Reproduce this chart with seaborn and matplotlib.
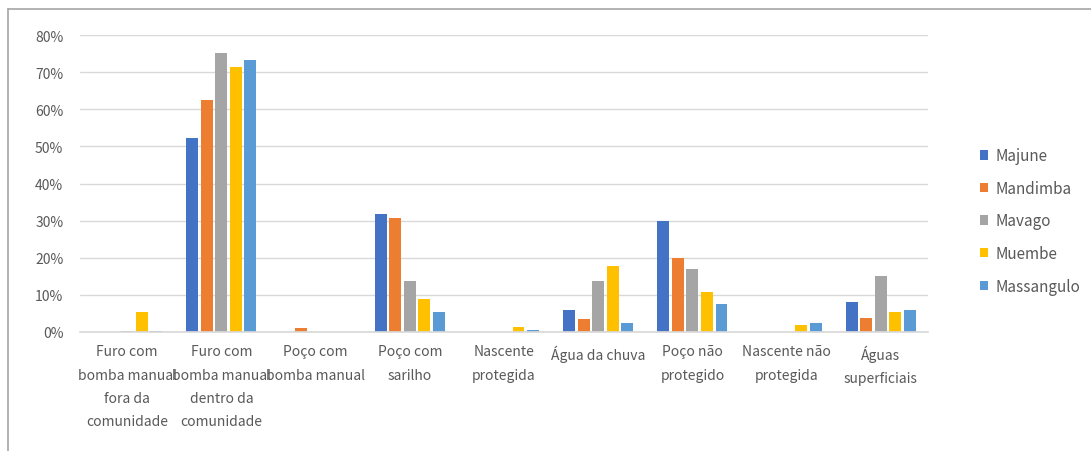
import matplotlib
matplotlib.use("Agg")
import matplotlib.pyplot as plt
from matplotlib.lines import Line2D
from matplotlib.ticker import PercentFormatter
import seaborn as sns
import pandas as pd

categories = [
    "Furo com\nbomba manual\nfora da\ncomunidade",
    "Furo com\nbomba manual\ndentro da\ncomunidade",
    "Poço com\nbomba manual",
    "Poço com\nsarilho",
    "Nascente\nprotegida",
    "Água da chuva",
    "Poço não\nprotegido",
    "Nascente não\nprotegida",
    "Águas\nsuperficiais",
]
majune     = [0.0, 52.3, 0.0, 31.9, 0.0, 5.8, 29.9, 0.0, 8.0]
mandimba   = [0.0, 62.5, 1.1, 30.6, 0.0, 3.6, 20.0, 0.0, 3.9]
mavago     = [0.4, 75.2, 0.0, 13.8, 0.0, 13.8, 17.1, 0.0, 15.1]
muembe     = [5.4, 71.3, 0.0, 9.0, 1.4, 17.9, 10.9, 1.9, 5.4]
massangulo = [0.4, 73.3, 0.0, 5.4, 0.45, 2.4, 7.5, 2.4, 5.8]
series_names = ["Majune", "Mandimba", "Mavago", "Muembe", "Massangulo"]
colors = ["#4472C4", "#ED7D31", "#A5A5A5", "#FFC000", "#5B9BD5"]

rows = []
for name, vals in zip(series_names, [majune, mandimba, mavago, muembe, massangulo]):
    for c, v in zip(categories, vals):
        rows.append({"cat": c, "serie": name, "val": v / 100.0})
df = pd.DataFrame(rows)

sns.set_theme(style="white")
plt.rcParams["font.family"] = ["Noto Sans CJK JP", "DejaVu Sans"]

fig = plt.figure(figsize=(10.91, 4.52), dpi=100)
ax = fig.add_axes([80 / 1091, (452 - 333) / 452, (928 - 80) / 1091, (333 - 36) / 452])

sns.barplot(data=df, x="cat", y="val", hue="serie", order=categories,
            hue_order=series_names, palette=colors, width=0.77, gap=0.18,
            ax=ax, legend=True, saturation=1, linewidth=0)

ax.set_ylim(0, 0.8)
ax.set_xlim(-0.5, len(categories) - 0.5)
ax.set_yticks([i / 10 for i in range(9)])
ax.yaxis.set_major_formatter(PercentFormatter(1.0, decimals=0))
ax.set_xlabel("")
ax.set_ylabel("")
ax.grid(axis="y", color="#D9D9D9", linewidth=1)
ax.set_axisbelow(True)
for s in ["top", "right", "left"]:
    ax.spines[s].set_visible(False)
ax.spines["bottom"].set_color("#D9D9D9")
ax.tick_params(axis="both", length=0, colors="#595959", labelsize=10)
ax.tick_params(axis="y", pad=12)
ax.tick_params(axis="x", pad=9)
for t in ax.get_xticklabels():
    t.set_linespacing(1.82)
    t.set_verticalalignment("top")

handles, labels = ax.get_legend_handles_labels()
ax.legend(handles, labels, loc="center left", bbox_to_anchor=(966 / 1091, (452 - 222) / 452),
          bbox_transform=fig.transFigure, frameon=False, fontsize=11,
          handlelength=0.55, handleheight=0.55, handletextpad=0.5, labelspacing=1.02,
          labelcolor="#595959")

fig.add_artist(Line2D([8 / 1091, 8 / 1091], [0, (452 - 10) / 452], transform=fig.transFigure,
                      color="#A6A6A6", linewidth=1.2))
fig.add_artist(Line2D([8 / 1091, 1], [(452 - 10) / 452, (452 - 10) / 452], transform=fig.transFigure,
                      color="#A6A6A6", linewidth=1.2))

fig.savefig("out.png", dpi=100, facecolor="white")
